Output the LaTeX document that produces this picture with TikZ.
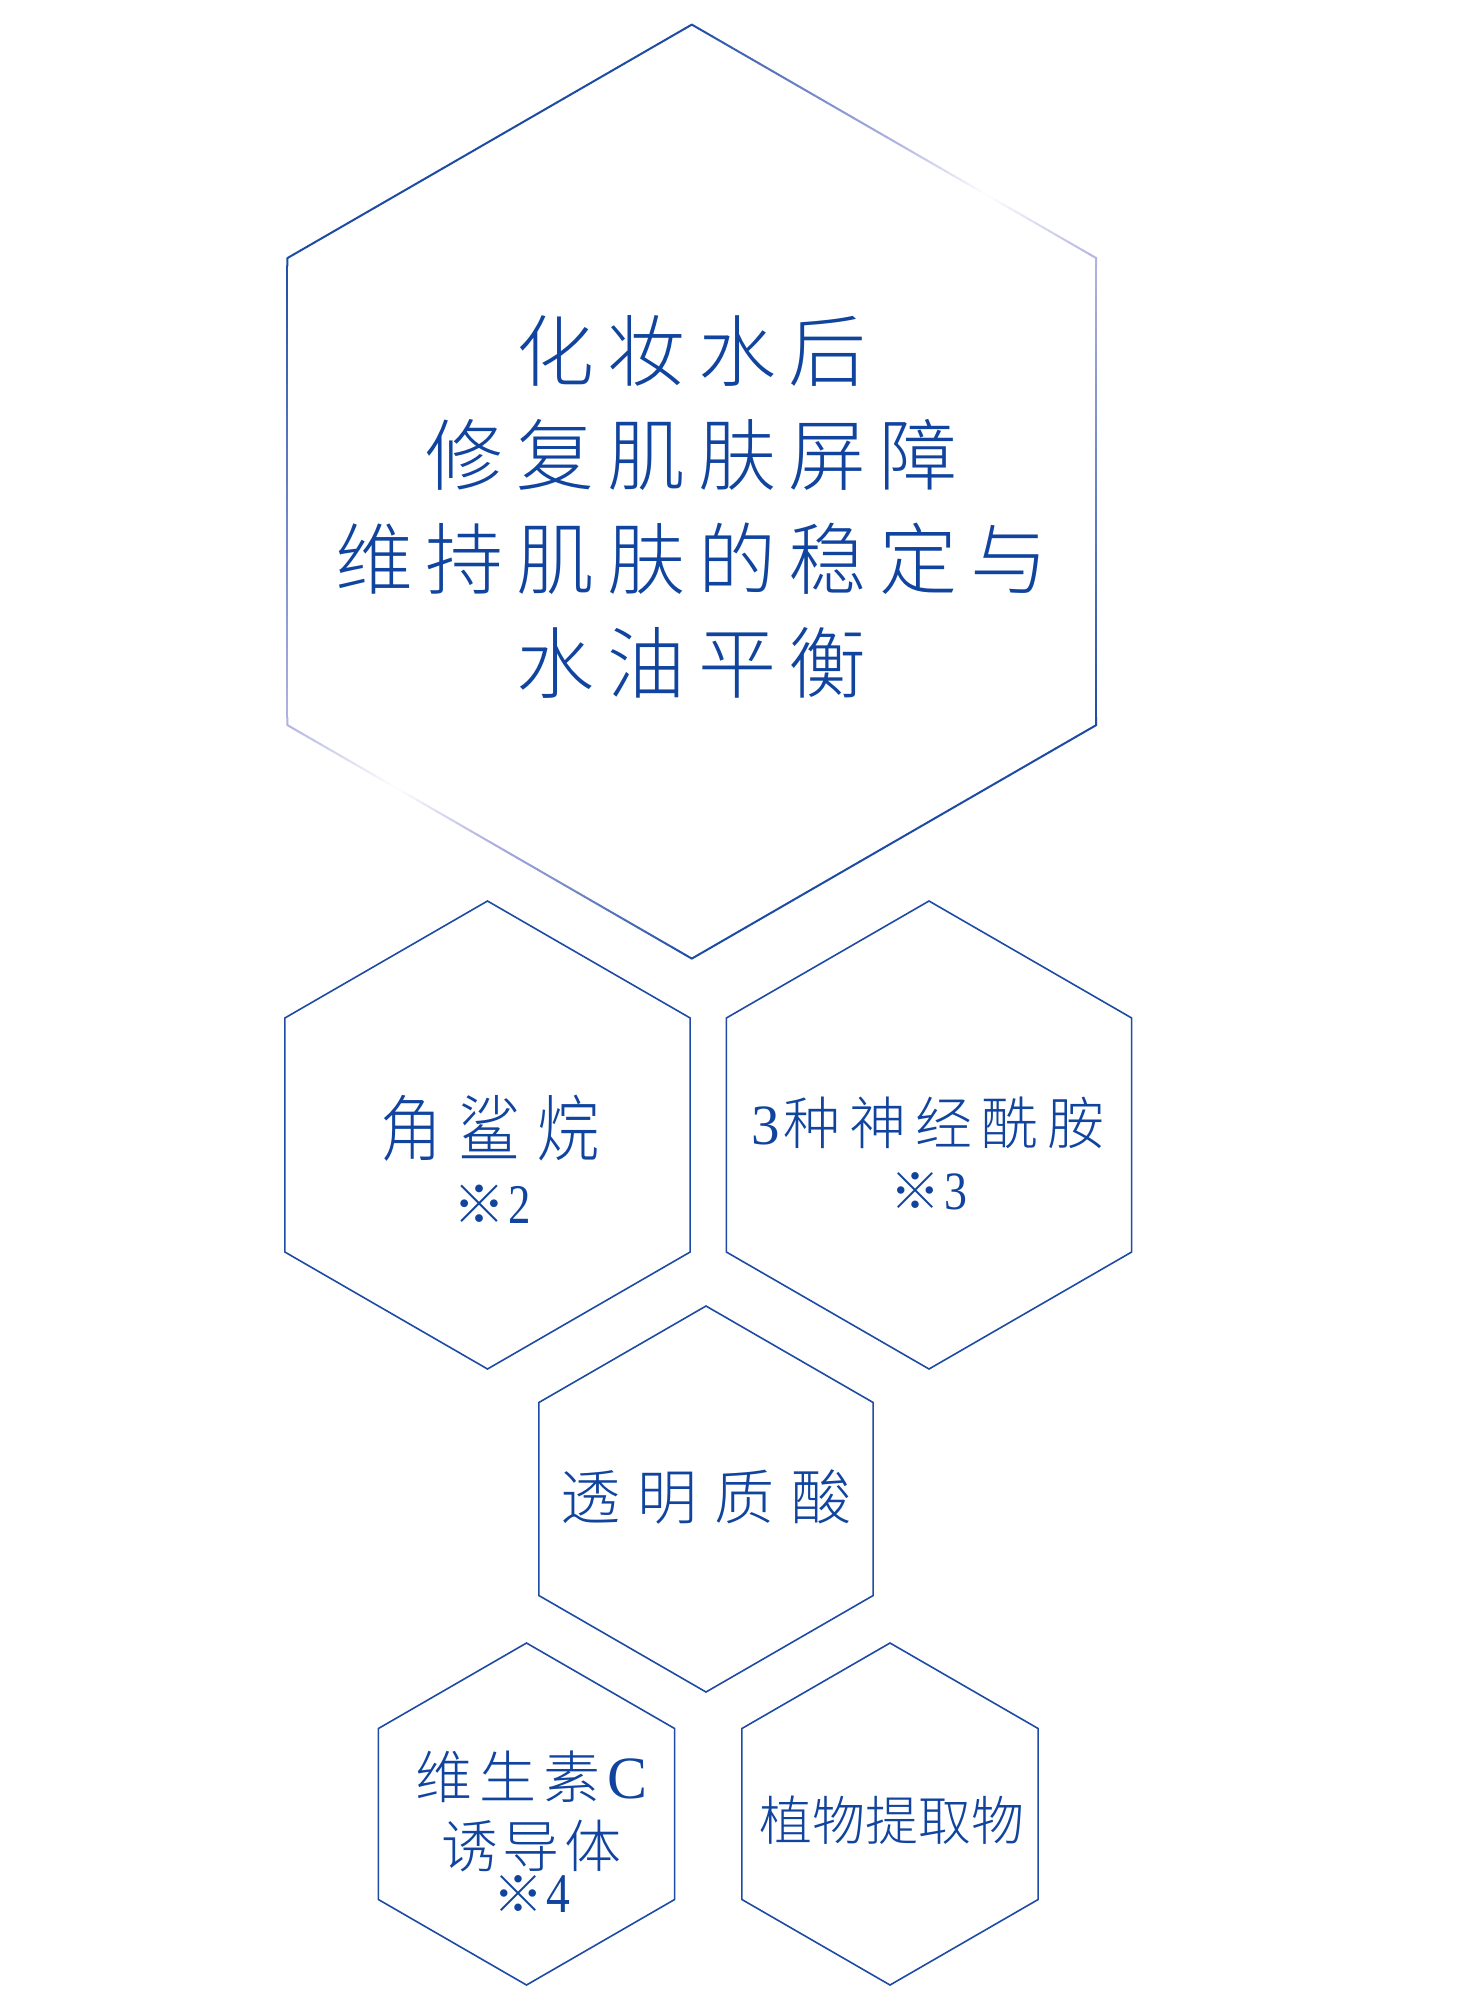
\documentclass[tikz,border=0pt]{standalone}
\usepackage{fontspec}
\setmainfont{Liberation Serif}
\newfontfamily\cjk{Noto Sans CJK SC Light}
\usetikzlibrary{calc}
\definecolor{hexblue}{RGB}{30,76,165}
\definecolor{txtblue}{RGB}{16,68,158}
\definecolor{lavc}{RGB}{178,180,226}
\newlength\hgap
\newcommand\kk{\kern\hgap}
\newcommand\fs[1]{\fontsize{#1pt}{#1pt}\selectfont}
\begin{document}
\begin{tikzpicture}[x=0.5pt,y=-0.5pt,
  txt/.style={text=txtblue, inner sep=0pt, anchor=center},
  hexline/.style={draw=hexblue, line width=0.8pt, line join=miter}]
\fill[white] (0,0) rectangle (1466,2000);
\useasboundingbox (0,0) rectangle (1466,2000);

% big hexagon with gradient stroke
\coordinate (V0) at (691.8,24.6);
\coordinate (V1) at (1096.2,258.1);
\coordinate (V2) at (1096.2,725.1);
\coordinate (V3) at (691.8,958.6);
\coordinate (V4) at (287.4,725.1);
\coordinate (V5) at (287.4,258.1);
\foreach \ea/\eb/\typ in {0/1/1,1/2/2,2/3/0,3/4/1,4/5/2,5/0/0}{
  \foreach \i in {0,...,59}{
    \pgfmathsetmacro\ta{\i/60}
    \pgfmathsetmacro\tb{(\i+1)/60}
    \pgfmathsetmacro\tm{(\i+0.5)/60}
    \pgfmathsetmacro\bb{\typ==1 ? (\tm<0.73 ? 1-\tm/0.73 : 0.3*(\tm-0.73)/0.27) : (\typ==2 ? 0.3+0.7*\tm : 1)}
    \pgfmathsetmacro\pa{\bb<0.3 ? \bb/0.3*100 : (\bb-0.3)/0.7*100}
    \ifdim\bb pt<0.3pt\relax \colorlet{segc}{lavc!\pa!white}\else\colorlet{segc}{hexblue!\pa!lavc}\fi
    \draw[segc, line width=1pt, line cap=round] ($(V\ea)!\ta!(V\eb)$) -- ($(V\ea)!\tb!(V\eb)$);
  }
}

% small hexagons
\draw[hexline, shift={(487.5,1135)}] (-90:234) -- (-30:234) -- (30:234) -- (90:234) -- (150:234) -- (210:234) -- cycle;
\draw[hexline, shift={(929,1135)}] (-90:234) -- (-30:234) -- (30:234) -- (90:234) -- (150:234) -- (210:234) -- cycle;
\draw[hexline, shift={(706,1499)}] (-90:193) -- (-30:193) -- (30:193) -- (90:193) -- (150:193) -- (210:193) -- cycle;
\draw[hexline, shift={(526.5,1814)}] (-90:171) -- (-30:171) -- (30:171) -- (90:171) -- (150:171) -- (210:171) -- cycle;
\draw[hexline, shift={(890,1814)}] (-90:171) -- (-30:171) -- (30:171) -- (90:171) -- (150:171) -- (210:171) -- cycle;

% big hexagon text
\node[txt] (l1) at (691.8,351) {\hgap=6.4pt\cjk\fs{39}化\kk 妆\kk 水\kk 后};
\node[txt] (l2) at (691.8,455) {\hgap=6.4pt\cjk\fs{39}修\kk 复\kk 肌\kk 肤\kk 屏\kk 障};
\node[txt] (l3) at (691.8,559) {\hgap=6.4pt\cjk\fs{39}维\kk 持\kk 肌\kk 肤\kk 的\kk 稳\kk 定\kk 与};
\node[txt] (l4) at (691.8,663) {\hgap=6.4pt\cjk\fs{39}水\kk 油\kk 平\kk 衡};

% squalane
\node[txt] (sq) at (490,1128) {\scalebox{0.86}[1]{\hgap=9.9pt\cjk\fs{36}角\kk 鲨\kk 烷}};
\node[txt] (sqn) at (492,1204) {{\cjk\fs{26}※}\kern1.5pt\scalebox{0.8}[1]{\fs{28}2}};

% ceramides
\node[txt] (cer) at (928,1123) {\hgap=4.5pt{\fs{28.5}3}\kern2pt{\cjk\fs{28.5}种\kk 神\kk 经\kk 酰\kk 胺}};
\node[txt] (cern) at (929,1191) {{\cjk\fs{25}※}\kern2pt\scalebox{0.85}[1]{\fs{27}3}};

% hyaluronic acid
\node[txt] (ha) at (706,1497) {\hgap=8.5pt\cjk\fs{30}透\kk 明\kk 质\kk 酸};

% vitamin C derivative
\node[txt] (vc1) at (531.5,1776.5) {\hgap=3.5pt\cjk\fs{28.5}维\kk 生\kk 素\kk{\rmfamily\fs{30}C}};
\node[txt] (vc2) at (531.5,1845.5) {\hgap=2.5pt\cjk\fs{28.5}诱\kk 导\kk 体};
\node[txt] (vcn) at (532,1894) {{\cjk\fs{25}※}\kern1.5pt\scalebox{0.85}[1]{\fs{28}4}};

% plant extract
\node[txt] (pe) at (891.5,1820) {\cjk\fs{26.5}植物提取物};
\end{tikzpicture}
\end{document}
